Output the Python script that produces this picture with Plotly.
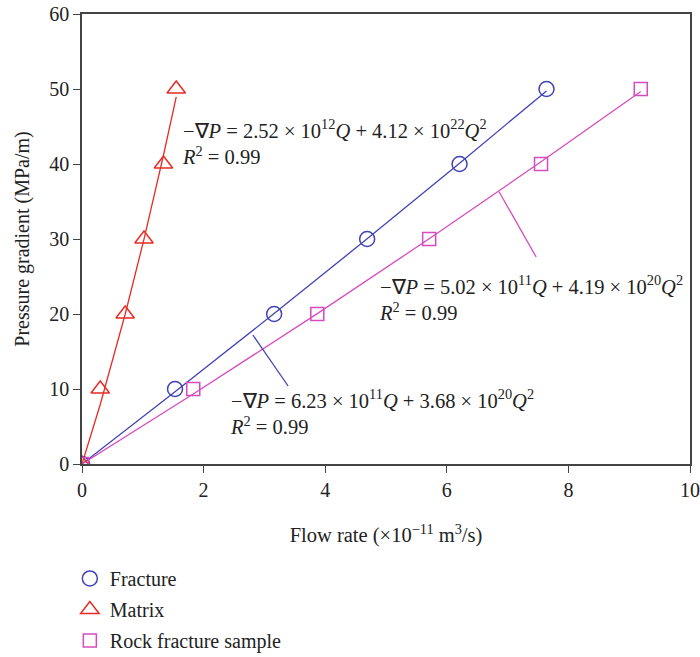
import plotly.graph_objects as go

# Data (flow rate in 1e-11 m^3/s, pressure gradient in MPa/m)
pressure = [0, 10, 20, 30, 40, 50]
q_fracture = [0, 1.53, 3.16, 4.69, 6.21, 7.64]
q_matrix = [0, 0.30, 0.71, 1.02, 1.34, 1.55]
q_rock = [0, 1.83, 3.87, 5.71, 7.55, 9.19]

# Fit coefficients (-gradP = a*Q + b*Q^2, in plotted units)
fit_fracture = (6.23, 0.0368)
fit_matrix = (25.2, 4.12)
fit_rock = (5.02, 0.0419)

BLUE = "rgb(66,66,182)"
RED = "rgb(232,44,36)"
MAG = "rgb(214,76,190)"
FONT = "Liberation Serif"
TXT = "#222222"


def fit_curve(qs, coef):
    a, b = coef
    return [a * q + b * q * q for q in qs]


fig = go.Figure()

for qs, coef, col in [(q_fracture, fit_fracture, BLUE),
                      (q_matrix, fit_matrix, RED),
                      (q_rock, fit_rock, MAG)]:
    fig.add_trace(go.Scatter(x=qs, y=fit_curve(qs, coef), mode="lines",
                             line=dict(color=col, width=1.3),
                             showlegend=False, hoverinfo="skip"))

series = [("Fracture", q_fracture, "circle-open", BLUE, 15),
          ("Matrix", q_matrix, "triangle-up-open", RED, 16),
          ("Rock fracture sample", q_rock, "square-open", MAG, 13)]
for i, (name, qs, sym, col, sz) in enumerate(series):
    fig.add_trace(go.Scatter(x=qs, y=pressure, mode="markers", name=name,
                             legendgroup=f"g{i}",
                             marker=dict(symbol=sym, size=sz, color=col,
                                         line=dict(color=col, width=1.5))))

ann_font = dict(family=FONT, size=20.5, color=TXT)
annotations = [
    (1.61, 42.9, "−∇<i>P</i> = 2.52 × 10<sup>12</sup><i>Q</i> + 4.12 × 10<sup>22</sup><i>Q</i><sup>2</sup><br><i>R</i><sup>2</sup> = 0.99"),
    (2.40, 6.9, "−∇<i>P</i> = 6.23 × 10<sup>11</sup><i>Q</i> + 3.68 × 10<sup>20</sup><i>Q</i><sup>2</sup><br><i>R</i><sup>2</sup> = 0.99"),
    (4.85, 22.1, "−∇<i>P</i> = 5.02 × 10<sup>11</sup><i>Q</i> + 4.19 × 10<sup>20</sup><i>Q</i><sup>2</sup><br><i>R</i><sup>2</sup> = 0.99"),
]
for ax, ay, txt in annotations:
    fig.add_annotation(x=ax, y=ay, xref="x", yref="y", text=txt, showarrow=False,
                       xanchor="left", yanchor="middle", align="left", font=ann_font)

fig.add_shape(type="line", xref="x", yref="y", x0=2.81, y0=17.2, x1=3.39, y1=10.4,
              line=dict(color=BLUE, width=1.3))
fig.add_shape(type="line", xref="x", yref="y", x0=6.86, y0=36.3, x1=7.47, y1=27.6,
              line=dict(color=MAG, width=1.3))

axis_common = dict(showline=True, linecolor="#444444", linewidth=1.6, mirror=True,
                   ticks="outside", ticklen=7, tickwidth=1.3, tickcolor="#444444",
                   showgrid=False, zeroline=False,
                   tickfont=dict(family=FONT, size=20, color=TXT))

fig.update_xaxes(range=[0, 10], dtick=2, **axis_common,
                 title=dict(text="Flow rate (×10<sup>−11</sup> m<sup>3</sup>/s)",
                            font=dict(family=FONT, size=20.5, color=TXT), standoff=28))
fig.update_yaxes(range=[0, 60], dtick=10, **axis_common,
                 title=dict(text="Pressure gradient (MPa/m)",
                            font=dict(family=FONT, size=20, color=TXT), standoff=14))

fig.update_layout(
    width=700, height=657,
    margin=dict(l=82, r=10, t=14, b=193, autoexpand=False),
    plot_bgcolor="white", paper_bgcolor="white",
    showlegend=True,
    legend=dict(x=-0.02, xanchor="left", y=-0.211, yanchor="top",
                font=dict(family=FONT, size=20, color=TXT),
                tracegroupgap=2, bgcolor="rgba(0,0,0,0)"),
)

fig.write_html("out.html")
